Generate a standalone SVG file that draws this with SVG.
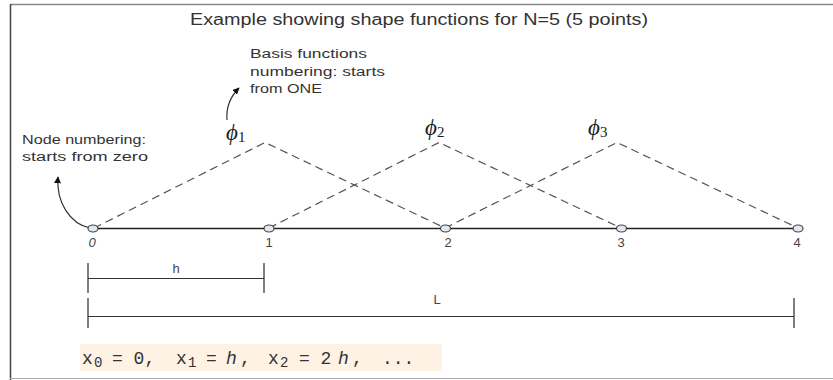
<svg xmlns="http://www.w3.org/2000/svg" width="833" height="380" viewBox="0 0 833 380">
<style>
.hand{font-family:"Liberation Sans","DejaVu Sans",sans-serif;fill:#333}
.phi{font-family:"Liberation Serif","DejaVu Serif",serif;font-style:italic;fill:#1a1a1a;font-size:23px}
.sub{font-family:"Liberation Serif","DejaVu Serif",serif;font-style:normal;font-size:15px}
.dash{fill:none;stroke:#555;stroke-width:1.2;stroke-dasharray:8,5}
.node{fill:#dfe7f1;stroke:#444;stroke-width:1.2}
.dim{stroke:#333;stroke-width:1.2;fill:none}
.tick{stroke:#555;stroke-width:1.5}
.num{font-family:"Liberation Sans","DejaVu Sans",sans-serif;fill:#444;font-size:13px;text-anchor:middle}
.f{font-family:"Liberation Mono","DejaVu Sans Mono",monospace;font-size:18px;fill:#333}
</style>
<defs>
<marker id="ah" viewBox="0 0 10 10" refX="9" refY="5" markerWidth="7" markerHeight="7" orient="auto-start-reverse" markerUnits="userSpaceOnUse">
<path d="M0,0 L10,5 L0,10 z" fill="#111"/>
</marker>
</defs>
<rect x="0" y="0" width="833" height="380" fill="#fff"/>
<g id="frame">
<line x1="10" y1="4.5" x2="833" y2="4.5" stroke="#888" stroke-width="1.5"/>
<line x1="10.5" y1="4" x2="10.5" y2="380" stroke="#444" stroke-width="1.5"/>
<line x1="10" y1="378.5" x2="833" y2="378.5" stroke="#aaa" stroke-width="1"/>
</g>
<text id="title" class="hand" x="190" y="25" font-size="16" textLength="458" lengthAdjust="spacingAndGlyphs">Example showing shape functions for N=5 (5 points)</text>

<g id="connectors">
<line x1="92" y1="228.5" x2="798" y2="228.5" stroke="#222" stroke-width="1.5"/>
<polyline class="dash" points="94,228 265,142.5 445,228"/>
<polyline class="dash" points="269,228 439,142.5 621,228"/>
<polyline class="dash" points="445,228 617,142.5 798,228"/>
<path d="M227,120 C226,108 230,97 239,88" class="dim" stroke="#111" marker-end="url(#ah)"/>
<path d="M90,228 C70,224 56,202 58,177" class="dim" stroke="#111" marker-end="url(#ah)"/>
</g>

<g id="node0"><ellipse class="node" cx="93" cy="228.5" rx="5" ry="3.5"/><text class="num" x="92" y="247" font-style="italic">0</text></g>
<g id="node1"><ellipse class="node" cx="269" cy="228.5" rx="5" ry="3.5"/><text class="num" x="269" y="247">1</text></g>
<g id="node2"><ellipse class="node" cx="445.5" cy="228.5" rx="5" ry="3.5"/><text class="num" x="448" y="247">2</text></g>
<g id="node3"><ellipse class="node" cx="621.5" cy="228.5" rx="5" ry="3.5"/><text class="num" x="621" y="247">3</text></g>
<g id="node4"><ellipse class="node" cx="798" cy="228.5" rx="5" ry="3.5"/><text class="num" x="797" y="247">4</text></g>

<g id="phi1"><text class="phi" x="226" y="140">ϕ<tspan class="sub" dy="2">1</tspan></text></g>
<g id="phi2"><text class="phi" x="425" y="135">ϕ<tspan class="sub" dy="2">2</tspan></text></g>
<g id="phi3"><text class="phi" x="588" y="135">ϕ<tspan class="sub" dy="2">3</tspan></text></g>

<g id="basis-note" class="hand" font-size="12">
<text x="250" y="58" textLength="117" lengthAdjust="spacingAndGlyphs">Basis functions</text>
<text x="250" y="76" textLength="135" lengthAdjust="spacingAndGlyphs">numbering: starts</text>
<text x="250" y="93" textLength="72" lengthAdjust="spacingAndGlyphs">from ONE</text>
</g>
<g id="node-note" class="hand" font-size="12">
<text x="22" y="144" textLength="124" lengthAdjust="spacingAndGlyphs">Node numbering:</text>
<text x="22" y="161" textLength="126" lengthAdjust="spacingAndGlyphs">starts from zero</text>
</g>

<g id="dim-h">
<line class="tick" x1="88" y1="263" x2="88" y2="293"/>
<line class="tick" x1="264" y1="263" x2="264" y2="293"/>
<line class="dim" x1="88" y1="278.5" x2="264" y2="278.5"/>
<text class="num" x="176" y="273" font-size="11">h</text>
</g>
<g id="dim-L">
<line class="tick" x1="88" y1="298" x2="88" y2="328"/>
<line class="tick" x1="794" y1="298" x2="794" y2="328"/>
<line class="dim" x1="88" y1="316.5" x2="794" y2="316.5" stroke="#555"/>
<text class="num" x="437" y="304">L</text>
</g>

<g id="formula">
<rect x="80" y="344" width="362" height="27" fill="#fdf2e4"/>
<text class="f" y="364"><tspan x="82">x</tspan><tspan x="94" dy="3" font-size="14">0</tspan><tspan x="112" dy="-3">= 0,</tspan><tspan x="176">x</tspan><tspan x="188" dy="3" font-size="14">1</tspan><tspan x="206" dy="-3">=</tspan><tspan x="226" font-style="italic">h</tspan><tspan x="240">,</tspan><tspan x="268">x</tspan><tspan x="280" dy="3" font-size="14">2</tspan><tspan x="299" dy="-3">= 2</tspan><tspan x="338" font-style="italic">h</tspan><tspan x="352">,</tspan><tspan x="382">...</tspan></text>
</g>
</svg>
